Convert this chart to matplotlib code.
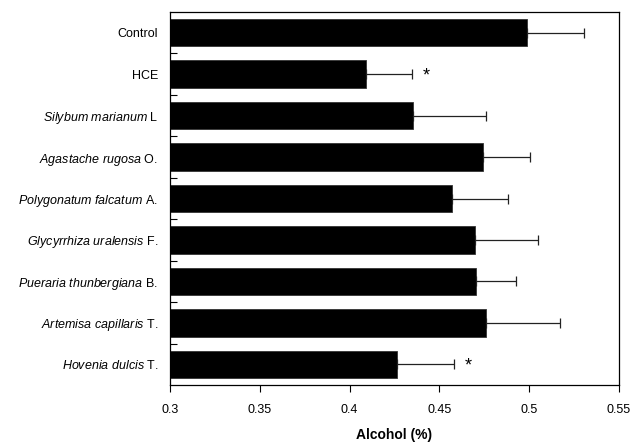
import matplotlib
matplotlib.use("Agg")
import matplotlib.pyplot as plt
import numpy as np

plt.rcParams['font.family'] = ['Liberation Sans', 'DejaVu Sans']
plt.rcParams['mathtext.fontset'] = 'custom'
plt.rcParams['mathtext.rm'] = 'Liberation Sans'
plt.rcParams['mathtext.it'] = 'Liberation Sans:italic'
plt.rcParams['mathtext.bf'] = 'Liberation Sans:bold'

categories = ["Control", "HCE",
              r"$\it{Silybum\ marianum}$ L",
              r"$\it{Agastache\ rugosa}$ O.",
              r"$\it{Polygonatum\ falcatum}$ A.",
              r"$\it{Glycyrrhiza\ uralensis}$ F.",
              r"$\it{Pueraria\ thunbergiana}$ B.",
              r"$\it{Artemisa\ capillaris}$ T.",
              r"$\it{Hovenia\ dulcis}$ T."]
values = [0.499, 0.409, 0.4355, 0.4743, 0.4572, 0.4696, 0.4704, 0.4761, 0.4264]
errors = [0.0315, 0.026, 0.0405, 0.026, 0.031, 0.0355, 0.022, 0.041, 0.032]
significant = [False, True, False, False, False, False, False, False, True]
xticks = [0.3, 0.35, 0.4, 0.45, 0.5, 0.55]
xticklabels = ["0.3", "0.35", "0.4", "0.45", "0.5", "0.55"]

fig = plt.figure(figsize=(6.33, 4.46), dpi=100)
ax = fig.add_axes([170/633, 1-385/446, (619-170)/633, (385-12)/446])

y = np.arange(len(categories))
ax.barh(y, np.array(values) - 0.3, left=0.3, height=0.66, color='black', edgecolor='#333333', linewidth=0.6)
ax.errorbar(values, y, xerr=[np.zeros(len(errors)), errors], fmt='none',
            ecolor='#222222', elinewidth=0.9, capsize=3.5, capthick=0.9)
for yi, v, e, s in zip(y, values, errors, significant):
    if s:
        ax.text(v + e + 0.0055, yi + 0.05, "*", fontsize=13, ha='left', va='center')

ax.set_xlim(0.3, 0.55)
ax.set_ylim(len(categories) - 0.5, -0.5)
ax.set_xticks(xticks)
ax.set_xticklabels(xticklabels, fontsize=9)
ax.set_yticks(y)
ax.set_yticklabels(categories, fontsize=9)
ax.set_yticks(np.arange(len(categories) - 1) + 0.5, minor=True)
ax.tick_params(axis='y', which='major', length=0, pad=8.5)
ax.tick_params(axis='y', which='minor', length=5, direction='in', width=0.8)
ax.tick_params(axis='x', which='major', length=5, direction='out', width=0.8, pad=9)
for sp in ax.spines.values():
    sp.set_linewidth(0.9)
ax.set_xlabel("Alcohol (%)", fontsize=10, fontweight='bold', labelpad=8)

fig.savefig("out.png", dpi=100)
